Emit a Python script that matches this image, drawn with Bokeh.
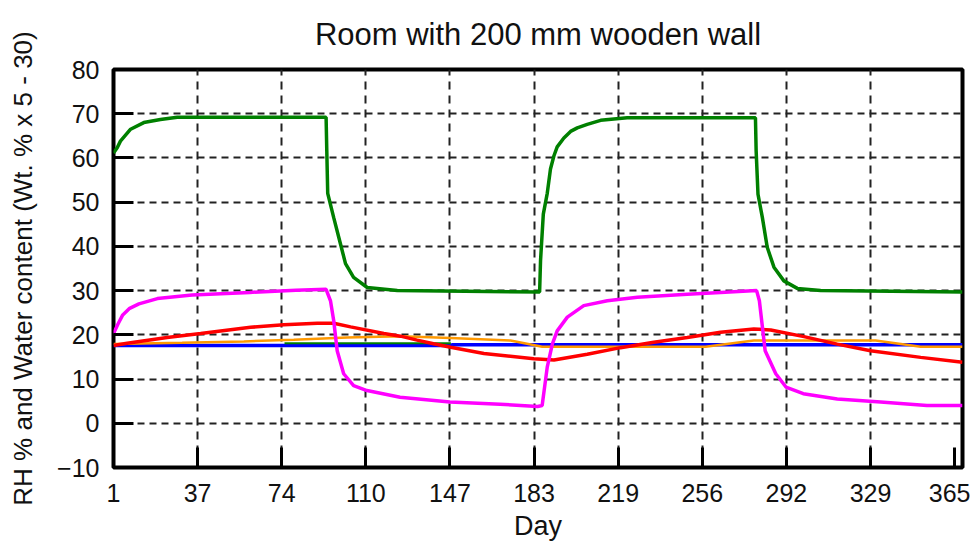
from bokeh.plotting import figure
from bokeh.models import FixedTicker, Range1d
from bokeh.embed import file_html
from bokeh.resources import INLINE

# ---------------- data ----------------
x_ticks = [1, 37.4, 73.8, 110.2, 146.6, 183, 219.4, 255.8, 292.2, 328.6, 365]
x_tick_labels = ["1", "37", "74", "110", "147", "183", "219", "256", "292", "329", "365"]
y_ticks = [-10, 0, 10, 20, 30, 40, 50, 60, 70, 80]

green_day = [1, 2.6, 4, 8.4, 14.1, 21.3, 28.6, 93.0, 93.3, 93.7, 96.3, 99.2, 101.4, 104.9,
             110.8, 123.8, 185.4, 185.8, 187.0, 188.7, 190.1, 191.6, 193.0, 195.9, 198.8,
             201.7, 206.0, 211.8, 223.3, 278.8, 279.1, 279.9, 281.8, 283.9, 286.8, 291.1,
             296.9, 307.0, 368.4]
green_val = [61.1, 62.3, 63.8, 66.5, 68.0, 68.7, 69.2, 69.2, 61.6, 52.0, 46.5, 40.6, 36.1, 33.0,
             30.7, 30.0, 29.7, 36.8, 47.3, 52.0, 57.5, 60.5, 62.5, 64.5, 66.0,
             66.8, 67.6, 68.5, 69.1, 69.1, 61.6, 51.8, 46.5, 39.8, 35.3, 32.2,
             30.5, 30.0, 29.7]

magenta_day = [1, 3, 5, 8, 12, 20, 35, 60, 80, 93.0, 94.9, 96.3, 97.8, 100.6, 104.9, 110.7,
               125.0, 146.6, 168.3, 184.5, 186.5, 188.7, 190.9, 193.0, 197.4, 204.5, 214.7,
               227.7, 249.3, 263.7, 279.3, 280.5, 283.0, 287.6, 292.0, 299.5, 314.2, 333.0,
               353.0, 368.4]
magenta_val = [20.3, 22.5, 24.5, 26.0, 27.0, 28.2, 29.0, 29.6, 30.1, 30.3, 27.7, 23.2, 16.4, 11.2,
               8.5, 7.4, 5.9, 4.8, 4.3, 3.8, 4.0, 12.7, 17.9, 20.9, 24.0, 26.6, 27.7,
               28.5, 29.2, 29.6, 30.0, 27.7, 16.4, 11.2, 8.2, 6.7, 5.5, 4.8,
               4.0, 4.0]

red_day = [1, 6.9, 24.2, 38.7, 60.3, 74.7, 89.2, 96.3, 103.6, 118.0, 125.2, 132.4, 139.5, 146.9,
           161.3, 182.9, 191.6, 206.0, 220.4, 234.8, 249.3, 263.7, 278.1, 285.4, 299.8, 314.2,
           328.6, 350.3, 368.4]
red_val = [17.6, 18.1, 19.4, 20.3, 21.7, 22.3, 22.6, 22.6, 21.8, 20.3, 19.7, 18.8, 18.0, 17.2,
           15.8, 14.6, 14.3, 15.6, 17.1, 18.3, 19.4, 20.6, 21.3, 21.1, 19.6, 17.9,
           16.4, 14.9, 13.8]

blue_day = [1, 146.9, 147.5, 368.4]
blue_val = [17.6, 17.6, 17.75, 17.75]

orange_day = [1, 30.7, 57.4, 79.0, 102.1, 125.2, 146.9, 172.8, 186.5, 257.2, 278.1, 330.8,
              350.3, 368.4]
orange_val = [17.9, 18.2, 18.5, 18.9, 19.4, 19.7, 19.3, 18.7, 17.3, 17.3, 18.7, 18.7,
              17.3, 17.3]

green2_day = [75, 147]
green2_val = [18.1, 18.1]

# ---------------- figure ----------------
FONT = "Liberation Sans"

p = figure(width=970, height=545,
           x_range=Range1d(1, 368.4), y_range=Range1d(-10, 80),
           output_backend="svg", toolbar_location=None,
           title="Room with 200 mm wooden wall",
           min_border_left=113, min_border_right=8,
           min_border_top=68, min_border_bottom=78)

p.background_fill_color = "white"
p.border_fill_color = "white"
p.outline_line_color = "black"
p.outline_line_width = 4

p.title.text_font = FONT
p.title.text_font_size = "31px"
p.title.text_font_style = "normal"
p.title.text_color = "#111111"
p.title.align = "center"
p.title.vertical_align = "top"
p.title.standoff = 32

# axes
p.xaxis.ticker = FixedTicker(ticks=x_ticks)
p.xaxis.major_label_overrides = {t: l for t, l in zip(x_ticks, x_tick_labels)}
p.yaxis.ticker = FixedTicker(ticks=y_ticks)
for ax in (p.xaxis, p.yaxis):
    ax.axis_line_color = None
    ax.major_tick_in = 20
    ax.major_tick_out = 0
    ax.major_tick_line_width = 3
    ax.major_tick_line_color = "black"
    ax.minor_tick_line_color = None
    ax.major_label_text_font = FONT
    ax.major_label_text_font_size = "25px"
    ax.major_label_text_color = "#111111"
    ax.axis_label_text_font = FONT
    ax.axis_label_text_font_style = "normal"
    ax.axis_label_text_color = "#111111"

p.xaxis.major_label_standoff = 16
p.yaxis.major_label_standoff = 14

p.yaxis.axis_label = "RH % and Water content (Wt. % x 5 - 30)"
p.yaxis.axis_label_text_font_size = "26px"
p.yaxis.axis_label_standoff = 16

p.xaxis.axis_label = "Day"
p.xaxis.axis_label_text_font_size = "27px"
p.xaxis.axis_label_standoff = 6

# grids
p.xgrid.ticker = FixedTicker(ticks=x_ticks[1:-1])
p.ygrid.ticker = FixedTicker(ticks=y_ticks[1:-1])
p.xgrid.grid_line_color = "#222222"
p.xgrid.grid_line_width = 2
p.xgrid.grid_line_dash = "8 6"
p.ygrid.grid_line_color = "#222222"
p.ygrid.grid_line_width = 2
p.ygrid.grid_line_dash = "7 5"

# lines
p.line(blue_day, blue_val, line_color="#0000FF", line_width=3.5)
p.line(green2_day, green2_val, line_color="#008000", line_width=2)
p.line(orange_day, orange_val, line_color="#FF9900", line_width=2.5)
p.line(red_day, red_val, line_color="#FF0000", line_width=3.5)
p.line(magenta_day, magenta_val, line_color="#FF00FF", line_width=3.5)
p.line(green_day, green_val, line_color="#008000", line_width=3.5)

open("out.html", "w").write(file_html(p, INLINE))
